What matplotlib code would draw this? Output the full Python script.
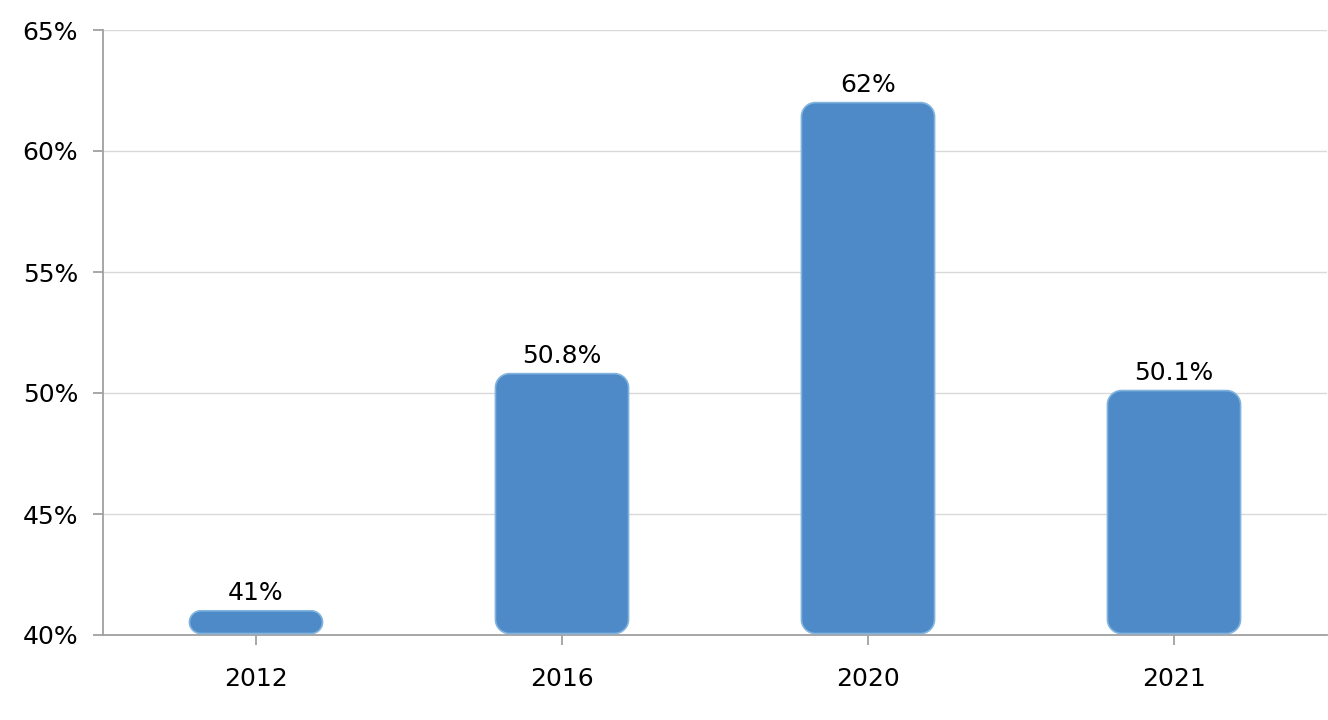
import numpy as np
import matplotlib
matplotlib.use('Agg')
import matplotlib.pyplot as plt
from matplotlib.patches import Polygon
from matplotlib.ticker import FuncFormatter

years = ['2012', '2016', '2020', '2021']
values = [41, 50.8, 62, 50.1]
labels = ['41%', '50.8%', '62%', '50.1%']

fig = plt.figure(figsize=(13.28, 7.2), dpi=100)
ax = fig.add_axes([103 / 1328, 85 / 720, 1224 / 1328, 605 / 720])

ymin, ymax = 40, 65
ax.set_xlim(-0.5, len(years) - 0.5)
ax.set_ylim(ymin, ymax)

ax.set_yticks(range(40, 66, 5))
ax.yaxis.set_major_formatter(FuncFormatter(lambda v, p: f'{v:.0f}%'))
ax.set_xticks(range(len(years)))
ax.set_xticklabels(years)

ax.grid(axis='y', color='#d9d9d9', linewidth=1)
ax.set_axisbelow(True)
for s in ['top', 'right']:
    ax.spines[s].set_visible(False)
for s in ['left', 'bottom']:
    ax.spines[s].set_color('#a0a0a0')
    ax.spines[s].set_linewidth(1.3)
ax.tick_params(axis='both', colors='#a0a0a0', length=7, width=1.3,
               labelsize=18, labelcolor='black')
ax.tick_params(axis='y', pad=11)
ax.tick_params(axis='x', pad=16)

# pixel scale so the corner radius stays round
fig.canvas.draw()
px_x = ax.transData.transform((1, 0))[0] - ax.transData.transform((0, 0))[0]
px_y = ax.transData.transform((0, 1))[1] - ax.transData.transform((0, 0))[1]
radius_px = 14


def rounded_bar(x0, y0, w, h):
    r = min(radius_px, w * px_x / 2, h * px_y / 2)
    rx, ry = r / px_x, r / px_y
    t = np.linspace(0, np.pi / 2, 12)
    pts = []
    # corners: bottom-right, top-right, top-left, bottom-left
    for cx, cy, a0 in [(x0 + w - rx, y0 + ry, -np.pi / 2),
                       (x0 + w - rx, y0 + h - ry, 0),
                       (x0 + rx, y0 + h - ry, np.pi / 2),
                       (x0 + rx, y0 + ry, np.pi)]:
        a = a0 + t
        pts += list(zip(cx + rx * np.cos(a), cy + ry * np.sin(a)))
    return pts


width = 0.435
for i, v in enumerate(values):
    y0 = ymin + 1.5 / px_y
    bar = Polygon(rounded_bar(i - width / 2, y0, width, v - y0), closed=True,
                  facecolor='#4f8ac8', edgecolor='#80b3dd',
                  linewidth=1.2, zorder=3)
    ax.add_patch(bar)
    ax.text(i, v + 0.25, labels[i], ha='center', va='bottom', fontsize=18)

fig.savefig('out.png', dpi=100)
